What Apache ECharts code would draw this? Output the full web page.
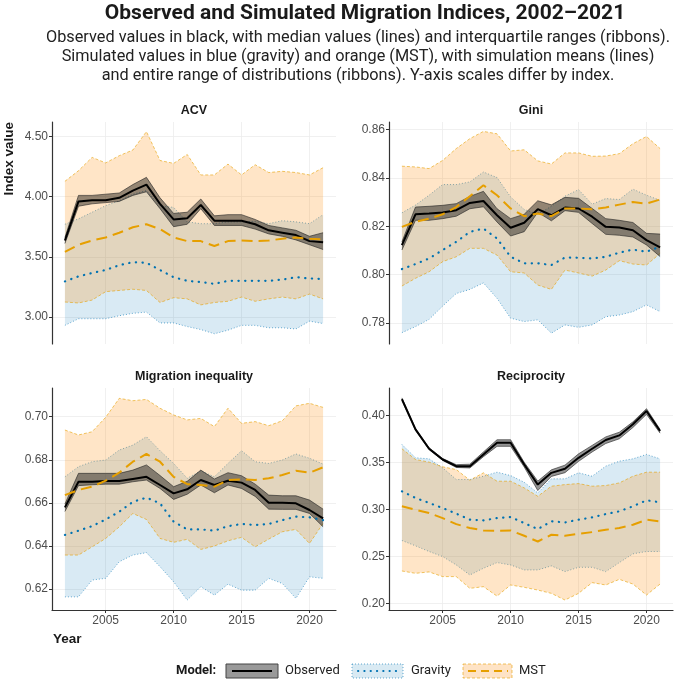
<!DOCTYPE html>
<html>
<head>
<meta charset="utf-8">
<script src="https://cdn.jsdelivr.net/npm/echarts@6/dist/echarts.min.js"></script>
<style>
  html, body { margin: 0; padding: 0; background: #fff; }
  #chart { width: 684px; height: 680px; }
</style>
</head>
<body>
<div id="chart"></div>
<script>
const years = [2002, 2003, 2004, 2005, 2006, 2007, 2008, 2009, 2010, 2011,
               2012, 2013, 2014, 2015, 2016, 2017, 2018, 2019, 2020, 2021];
const yearTicks = [2005, 2010, 2015, 2020];

// ACV
const acvObs    = [3.635, 3.96, 3.97, 3.97, 3.99, 4.05, 4.10, 3.94, 3.81, 3.82, 3.93, 3.80, 3.80, 3.80, 3.77, 3.72, 3.70, 3.68, 3.63, 3.62];
const acvObsLo  = [3.61, 3.92, 3.94, 3.95, 3.96, 4.01, 4.04, 3.90, 3.75, 3.77, 3.90, 3.76, 3.76, 3.76, 3.73, 3.69, 3.67, 3.64, 3.60, 3.56];
const acvObsHi  = [3.66, 4.01, 4.01, 4.02, 4.03, 4.10, 4.16, 3.99, 3.86, 3.87, 3.98, 3.84, 3.85, 3.85, 3.81, 3.76, 3.74, 3.72, 3.67, 3.70];
const acvGrav   = [3.295, 3.337, 3.365, 3.39, 3.43, 3.455, 3.45, 3.39, 3.33, 3.30, 3.29, 3.275, 3.30, 3.30, 3.30, 3.30, 3.31, 3.33, 3.32, 3.315];
const acvGravLo = [2.93, 2.985, 2.985, 2.985, 3.01, 3.03, 3.04, 2.95, 2.95, 2.92, 2.895, 2.86, 2.89, 2.93, 2.93, 2.91, 2.91, 2.90, 2.965, 2.945];
const acvGravHi = [3.77, 3.815, 3.87, 3.925, 3.965, 4.02, 4.05, 3.925, 3.91, 3.79, 3.775, 3.775, 3.79, 3.79, 3.795, 3.775, 3.80, 3.79, 3.775, 3.85];
const acvMst    = [3.54, 3.60, 3.635, 3.66, 3.70, 3.745, 3.77, 3.73, 3.66, 3.63, 3.63, 3.59, 3.63, 3.635, 3.63, 3.635, 3.65, 3.66, 3.65, 3.645];
const acvMstLo  = [3.124, 3.116, 3.14, 3.21, 3.22, 3.23, 3.22, 3.12, 3.16, 3.15, 3.10, 3.12, 3.13, 3.165, 3.13, 3.15, 3.165, 3.15, 3.19, 3.15];
const acvMstHi  = [4.127, 4.215, 4.326, 4.28, 4.34, 4.387, 4.54, 4.30, 4.276, 4.35, 4.18, 4.18, 4.27, 4.18, 4.265, 4.20, 4.21, 4.20, 4.18, 4.24];
const acvTicks  = [3.0, 3.5, 4.0, 4.5];

// Gini
const giniObs    = [0.8122, 0.825, 0.8253, 0.8257, 0.8267, 0.8297, 0.8305, 0.8246, 0.8194, 0.8215, 0.8271, 0.8246, 0.8278, 0.8274, 0.824, 0.8198, 0.8195, 0.8184, 0.8143, 0.8113];
const giniObsLo  = [0.8102, 0.8225, 0.8225, 0.8232, 0.8242, 0.8273, 0.8281, 0.8218, 0.816, 0.8178, 0.8258, 0.8223, 0.8265, 0.8258, 0.8212, 0.8167, 0.8163, 0.8156, 0.8123, 0.8075];
const giniObsHi  = [0.8136, 0.828, 0.8283, 0.8287, 0.8294, 0.8324, 0.8345, 0.8273, 0.8232, 0.825, 0.8306, 0.8289, 0.832, 0.8316, 0.8274, 0.8232, 0.8225, 0.8216, 0.8171, 0.8168];
const giniGrav   = [0.8023, 0.8044, 0.8067, 0.8102, 0.8136, 0.8177, 0.8191, 0.815, 0.8074, 0.8047, 0.8047, 0.804, 0.8071, 0.807, 0.8067, 0.8074, 0.8091, 0.8104, 0.8095, 0.8116];
const giniGravLo = [0.776, 0.7785, 0.7815, 0.787, 0.7922, 0.7939, 0.7966, 0.7902, 0.782, 0.7806, 0.7813, 0.7758, 0.7792, 0.7782, 0.7792, 0.7826, 0.7833, 0.7847, 0.7875, 0.7847];
const giniGravHi = [0.8256, 0.8288, 0.8329, 0.8373, 0.8373, 0.8384, 0.8425, 0.8402, 0.8322, 0.827, 0.825, 0.8283, 0.8325, 0.8352, 0.8292, 0.8315, 0.8311, 0.8354, 0.8329, 0.8308];
const giniMst    = [0.8198, 0.8219, 0.8232, 0.825, 0.828, 0.8325, 0.837, 0.8329, 0.8274, 0.8242, 0.8253, 0.8242, 0.8274, 0.8274, 0.8271, 0.8278, 0.829, 0.8301, 0.8294, 0.8311];
const giniMstLo  = [0.7953, 0.7985, 0.8012, 0.8054, 0.8074, 0.8109, 0.8109, 0.8081, 0.8012, 0.8007, 0.7957, 0.7939, 0.8019, 0.8007, 0.7994, 0.8019, 0.8058, 0.8044, 0.804, 0.8088];
const giniMstHi  = [0.8449, 0.8446, 0.8439, 0.8473, 0.8522, 0.8563, 0.8593, 0.8583, 0.8512, 0.8517, 0.8471, 0.8458, 0.8504, 0.8504, 0.849, 0.8491, 0.8501, 0.8542, 0.8572, 0.8522];
const giniTicks  = [0.78, 0.80, 0.82, 0.84, 0.86];

// Migration inequality
const miObs    = [0.6579, 0.6698, 0.6698, 0.6701, 0.6701, 0.6711, 0.6721, 0.6683, 0.6644, 0.6663, 0.6706, 0.6683, 0.6703, 0.6694, 0.666, 0.6601, 0.6601, 0.6598, 0.6567, 0.6528];
const miObsLo  = [0.656, 0.668, 0.6684, 0.6687, 0.6687, 0.6698, 0.6706, 0.6667, 0.6616, 0.664, 0.6683, 0.6647, 0.6683, 0.6667, 0.663, 0.6571, 0.657, 0.657, 0.6551, 0.6489];
const miObsHi  = [0.6595, 0.6737, 0.6737, 0.6737, 0.6737, 0.6752, 0.6776, 0.6727, 0.6675, 0.67, 0.6752, 0.6711, 0.674, 0.6726, 0.6687, 0.6636, 0.6633, 0.6633, 0.6613, 0.6571];
const miGrav   = [0.6451, 0.6471, 0.6492, 0.6523, 0.6559, 0.6605, 0.6624, 0.6598, 0.6513, 0.6477, 0.6477, 0.6471, 0.6492, 0.6502, 0.6497, 0.6502, 0.652, 0.6536, 0.6533, 0.652];
const miGravLo = [0.6164, 0.6164, 0.6242, 0.625, 0.6327, 0.6358, 0.6369, 0.6304, 0.6234, 0.6149, 0.6211, 0.6172, 0.6223, 0.6195, 0.6195, 0.625, 0.6226, 0.6157, 0.6257, 0.625];
const miGravHi = [0.6721, 0.6768, 0.6791, 0.6799, 0.6845, 0.6868, 0.6907, 0.6842, 0.6783, 0.6714, 0.6749, 0.6721, 0.6783, 0.6842, 0.6791, 0.6783, 0.6799, 0.6827, 0.6807, 0.678];
const miMst    = [0.6636, 0.666, 0.6675, 0.6703, 0.674, 0.6791, 0.6827, 0.6791, 0.6721, 0.6687, 0.6683, 0.6675, 0.6706, 0.6709, 0.6706, 0.6714, 0.6729, 0.6749, 0.674, 0.6765];
const miMstLo  = [0.6358, 0.6358, 0.6396, 0.6435, 0.6489, 0.6551, 0.6523, 0.6435, 0.6417, 0.6431, 0.6384, 0.64, 0.6424, 0.644, 0.6396, 0.6432, 0.6466, 0.6477, 0.6412, 0.6505];
const miMstHi  = [0.6938, 0.6915, 0.693, 0.6997, 0.7085, 0.7074, 0.708, 0.7039, 0.7008, 0.6985, 0.6992, 0.6954, 0.7039, 0.6969, 0.6977, 0.6958, 0.6981, 0.705, 0.7062, 0.7043];
const miTicks  = [0.62, 0.64, 0.66, 0.68, 0.70];

// Reciprocity
const recObs    = [0.4171, 0.385, 0.3644, 0.353, 0.3459, 0.3459, 0.3584, 0.3708, 0.3708, 0.3477, 0.3263, 0.3388, 0.3431, 0.3548, 0.3644, 0.3737, 0.3786, 0.3904, 0.4046, 0.3833];
const recObsLo  = [0.4155, 0.384, 0.3635, 0.352, 0.3445, 0.344, 0.356, 0.367, 0.367, 0.345, 0.320, 0.335, 0.339, 0.351, 0.361, 0.370, 0.375, 0.387, 0.401, 0.381];
const recObsHi  = [0.4185, 0.386, 0.3655, 0.354, 0.3475, 0.348, 0.361, 0.374, 0.374, 0.350, 0.330, 0.342, 0.347, 0.359, 0.368, 0.377, 0.382, 0.393, 0.407, 0.385];
const recGrav   = [0.3192, 0.3121, 0.3068, 0.3014, 0.2954, 0.289, 0.2883, 0.2907, 0.2918, 0.2854, 0.279, 0.2872, 0.2861, 0.289, 0.2915, 0.295, 0.2979, 0.3032, 0.3096, 0.3075];
const recGravLo = [0.2669, 0.2612, 0.2552, 0.2498, 0.2409, 0.2302, 0.2374, 0.2434, 0.2409, 0.2356, 0.2356, 0.2399, 0.2338, 0.2384, 0.2384, 0.2338, 0.2434, 0.2527, 0.2552, 0.2552];
const recGravHi = [0.369, 0.3548, 0.3537, 0.3441, 0.3317, 0.3317, 0.3352, 0.3395, 0.3359, 0.3288, 0.3174, 0.3324, 0.3324, 0.3388, 0.3352, 0.3459, 0.3512, 0.3537, 0.3584, 0.3537];
const recMst    = [0.3032, 0.2996, 0.2961, 0.2907, 0.2843, 0.2801, 0.2776, 0.2772, 0.2776, 0.2719, 0.2658, 0.273, 0.2719, 0.274, 0.2758, 0.2783, 0.2801, 0.2836, 0.289, 0.2872];
const recMstLo  = [0.2345, 0.232, 0.2335, 0.2285, 0.2285, 0.216, 0.2178, 0.2078, 0.2196, 0.2171, 0.2142, 0.2107, 0.2036, 0.2107, 0.2221, 0.2196, 0.2256, 0.2206, 0.2089, 0.2206];
const recMstHi  = [0.3644, 0.353, 0.3502, 0.3452, 0.3423, 0.331, 0.3388, 0.3299, 0.3299, 0.3228, 0.3139, 0.3246, 0.3263, 0.3274, 0.3246, 0.3253, 0.3281, 0.3352, 0.3395, 0.3395];
const recTicks  = [0.20, 0.25, 0.30, 0.35, 0.40];

const BLUE = '#0072B2';
const ORANGE = '#E69F00';
const FONT = 'Liberation Sans';
const TFONT = 'Roboto';

const panels = [
  { title: 'ACV', obs: acvObs, obsLo: acvObsLo, obsHi: acvObsHi, grav: acvGrav, gravLo: acvGravLo, gravHi: acvGravHi,
    mst: acvMst, mstLo: acvMstLo, mstHi: acvMstHi, ticks: acvTicks, min: 2.775, max: 4.62, left: 52, top: 122, bottom: false },
  { title: 'Gini', obs: giniObs, obsLo: giniObsLo, obsHi: giniObsHi, grav: giniGrav, gravLo: giniGravLo, gravHi: giniGravHi,
    mst: giniMst, mstLo: giniMstLo, mstHi: giniMstHi, ticks: giniTicks, min: 0.7713, max: 0.8632, left: 389, top: 122, bottom: false },
  { title: 'Migration inequality', obs: miObs, obsLo: miObsLo, obsHi: miObsHi, grav: miGrav, gravLo: miGravLo, gravHi: miGravHi,
    mst: miMst, mstLo: miMstLo, mstHi: miMstHi, ticks: miTicks, min: 0.6103, max: 0.7133, left: 52, top: 388, bottom: true },
  { title: 'Reciprocity', obs: recObs, obsLo: recObsLo, obsHi: recObsHi, grav: recGrav, gravLo: recGravLo, gravHi: recGravHi,
    mst: recMst, mstLo: recMstLo, mstHi: recMstHi, ticks: recTicks, min: 0.193, max: 0.429, left: 389, top: 388, bottom: true }
];

const W = 284, H = 222;

function pairs(vals) {
  return years.map((y, i) => [y, vals[i]]);
}

// ribbon drawn as one polygon between lo and hi, plus thin edge lines
function ribbon(idx, lo, hi, fill, edge) {
  return {
    type: 'custom', xAxisIndex: idx, yAxisIndex: idx, silent: true,
    data: years.map((y, i) => [y, lo[i], hi[i]]),
    encode: { x: 0, y: [1, 2] },
    renderItem: function (params, api) {
      if (params.dataIndex !== 0) return;
      const top = years.map((y, i) => api.coord([y, hi[i]]));
      const bot = years.map((y, i) => api.coord([y, lo[i]]));
      return {
        type: 'group',
        children: [
          { type: 'polygon', shape: { points: top.concat(bot.slice().reverse()) }, style: { fill: fill } },
          { type: 'polyline', shape: { points: top }, style: Object.assign({ fill: null }, edge) },
          { type: 'polyline', shape: { points: bot }, style: Object.assign({ fill: null }, edge) }
        ]
      };
    }
  };
}

function line(idx, vals, style) {
  return { type: 'line', xAxisIndex: idx, yAxisIndex: idx, data: pairs(vals),
    symbol: 'none', silent: true, lineStyle: style };
}

const grid = [], xAxis = [], yAxis = [], series = [], graphic = [];

panels.forEach((p, i) => {
  grid.push({ left: p.left, top: p.top, width: W, height: H });
  xAxis.push({
    type: 'value', gridIndex: i, min: 2001.05, max: 2021.95,
    axisLine: { show: p.bottom, onZero: false, lineStyle: { color: '#333', width: 1.2 } },
    axisTick: { show: p.bottom, length: 3, customValues: yearTicks, lineStyle: { color: '#333' } },
    axisLabel: { show: p.bottom, customValues: yearTicks, margin: 5, fontSize: 12,
      fontFamily: FONT, color: '#4d4d4d', formatter: v => String(v) },
    splitLine: { show: true, lineStyle: { color: '#ececec', width: 0.8 } }
  });
  yAxis.push({
    type: 'value', gridIndex: i, min: p.min, max: p.max,
    axisLine: { show: true, onZero: false, lineStyle: { color: '#333', width: 1.2 } },
    axisTick: { show: true, length: 3, customValues: p.ticks, lineStyle: { color: '#333' } },
    axisLabel: { customValues: p.ticks, margin: 4, fontSize: 12, fontFamily: FONT,
      color: '#4d4d4d', formatter: v => v.toFixed(2) },
    splitLine: { show: true, lineStyle: { color: '#ececec', width: 0.8 } }
  });

  series.push(ribbon(i, p.gravLo, p.gravHi, 'rgba(0,114,178,0.15)', { stroke: BLUE, lineWidth: 0.6, lineDash: [1, 2] }));
  series.push(ribbon(i, p.mstLo, p.mstHi, 'rgba(255,145,20,0.24)', { stroke: ORANGE, lineWidth: 0.6, lineDash: [3, 2] }));
  series.push(ribbon(i, p.obsLo, p.obsHi, 'rgba(0,0,0,0.42)', { stroke: '#222', lineWidth: 0.6 }));
  series.push(line(i, p.obs, { color: '#000', width: 2 }));
  series.push(line(i, p.grav, { color: BLUE, width: 2.2, type: [0.3, 6.4], cap: 'round' }));
  series.push(line(i, p.mst, { color: ORANGE, width: 2, type: [11, 6] }));

  graphic.push({
    type: 'text', x: p.left + W / 2, y: p.top - 11,
    style: { text: p.title, font: 'bold 12.5px ' + FONT, fill: '#1a1a1a', align: 'center', verticalAlign: 'middle' }
  });
});

// titles and axis names
graphic.push(
  { type: 'text', x: 365, y: 14, style: { text: 'Observed and Simulated Migration Indices, 2002\u20132021',
    font: 'bold 21px ' + TFONT, fill: '#1a1a1a', align: 'center', verticalAlign: 'middle' } },
  { type: 'text', x: 358, y: 38, style: { text: 'Observed values in black, with median values (lines) and interquartile ranges (ribbons).',
    font: '16.3px ' + TFONT, fill: '#222', align: 'center', verticalAlign: 'middle' } },
  { type: 'text', x: 358, y: 57, style: { text: 'Simulated values in blue (gravity) and orange (MST), with simulation means (lines)',
    font: '16.3px ' + TFONT, fill: '#222', align: 'center', verticalAlign: 'middle' } },
  { type: 'text', x: 358, y: 76, style: { text: 'and entire range of distributions (ribbons). Y-axis scales differ by index.',
    font: '16.3px ' + TFONT, fill: '#222', align: 'center', verticalAlign: 'middle' } },
  { type: 'text', x: 9, y: 122, rotation: Math.PI / 2, style: { text: 'Index value',
    font: 'bold 13.5px ' + FONT, fill: '#1a1a1a', align: 'right', verticalAlign: 'middle' } },
  { type: 'text', x: 53, y: 639, style: { text: 'Year',
    font: 'bold 13.5px ' + FONT, fill: '#1a1a1a', align: 'left', verticalAlign: 'middle' } }
);

// legend
const LY = 671;
graphic.push(
  { type: 'text', x: 176, y: LY, style: { text: 'Model:', font: 'bold 13px ' + TFONT, fill: '#1a1a1a', verticalAlign: 'middle' } },
  { type: 'rect', shape: { x: 226, y: LY - 7, width: 52, height: 14 }, style: { fill: '#999', stroke: '#444', lineWidth: 1 } },
  { type: 'line', shape: { x1: 232, y1: LY, x2: 272, y2: LY }, style: { stroke: '#000', lineWidth: 2 } },
  { type: 'text', x: 285, y: LY, style: { text: 'Observed', font: '13px ' + TFONT, fill: '#222', verticalAlign: 'middle' } },
  { type: 'rect', shape: { x: 352, y: LY - 7, width: 51, height: 14 }, style: { fill: '#d9eaf3', stroke: BLUE, lineWidth: 0.6, lineDash: [1, 2] } },
  { type: 'line', shape: { x1: 358, y1: LY, x2: 398, y2: LY }, style: { stroke: BLUE, lineWidth: 2, lineDash: [0.3, 6], lineCap: 'round' } },
  { type: 'text', x: 411, y: LY, style: { text: 'Gravity', font: '13px ' + TFONT, fill: '#222', verticalAlign: 'middle' } },
  { type: 'rect', shape: { x: 463, y: LY - 7, width: 49, height: 14 }, style: { fill: '#fee3c5', stroke: ORANGE, lineWidth: 0.6, lineDash: [3, 2] } },
  { type: 'line', shape: { x1: 468, y1: LY, x2: 508, y2: LY }, style: { stroke: ORANGE, lineWidth: 2, lineDash: [8, 5] } },
  { type: 'text', x: 519, y: LY, style: { text: 'MST', font: '13px ' + TFONT, fill: '#222', verticalAlign: 'middle' } }
);

const chart = echarts.init(document.getElementById('chart'));
chart.setOption({
  animation: false,
  backgroundColor: '#fff',
  grid: grid,
  xAxis: xAxis,
  yAxis: yAxis,
  series: series,
  graphic: graphic
});
</script>
</body>
</html>
